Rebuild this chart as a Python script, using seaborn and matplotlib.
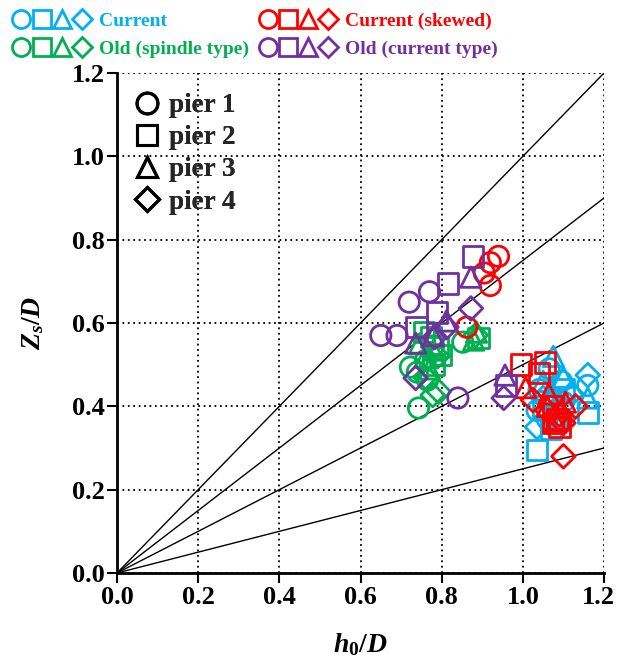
import numpy as np
import pandas as pd
import matplotlib
matplotlib.use("Agg")
import matplotlib.pyplot as plt
import seaborn as sns
from matplotlib.lines import Line2D
from matplotlib.markers import MarkerStyle
from matplotlib.transforms import Affine2D
from matplotlib.legend_handler import HandlerTuple

# ---------------- data ----------------
current_h = [1.04, 1.065, 1.095, 1.16, 1.035, 1.10, 1.06, 1.08,
             1.16, 1.035, 1.07, 1.05, 1.10, 1.08,
             1.075, 1.10, 1.16, 1.05, 1.09, 1.07,
             1.16, 1.035, 1.12, 1.08, 1.05, 1.10]
current_z = [0.44, 0.49, 0.46, 0.45, 0.39, 0.41, 0.37, 0.42,
             0.385, 0.295, 0.345, 0.40, 0.44, 0.38,
             0.52, 0.47, 0.42, 0.46, 0.40, 0.43,
             0.475, 0.35, 0.43, 0.39, 0.42, 0.37]
current_pier = ["pier 1"] * 8 + ["pier 2"] * 6 + ["pier 3"] * 6 + ["pier 4"] * 6

skewed_h = [0.94, 0.92, 0.905, 0.92, 0.862,
            0.995, 1.055, 1.04, 1.075, 1.075, 1.09, 1.085,
            1.007, 1.064, 1.105, 1.08, 1.06,
            1.025, 1.13, 1.10, 1.10, 1.06, 1.09]
skewed_z = [0.76, 0.745, 0.72, 0.69, 0.59,
            0.50, 0.505, 0.48, 0.40, 0.36, 0.35, 0.37,
            0.445, 0.43, 0.41, 0.365, 0.40,
            0.415, 0.40, 0.36, 0.28, 0.39, 0.38]
skewed_pier = ["pier 1"] * 5 + ["pier 2"] * 7 + ["pier 3"] * 5 + ["pier 4"] * 6

spindle_h = [0.743, 0.852, 0.723, 0.74, 0.765, 0.76, 0.78,
             0.891, 0.797, 0.79, 0.773, 0.756, 0.78,
             0.76, 0.78, 0.879, 0.886, 0.77, 0.745,
             0.793, 0.778, 0.884, 0.76, 0.79]
spindle_z = [0.396, 0.554, 0.494, 0.482, 0.463, 0.51, 0.545,
             0.564, 0.523, 0.543, 0.566, 0.578, 0.50,
             0.518, 0.535, 0.559, 0.578, 0.49, 0.55,
             0.435, 0.427, 0.571, 0.47, 0.52]
spindle_pier = ["pier 1"] * 7 + ["pier 2"] * 6 + ["pier 3"] * 6 + ["pier 4"] * 5

oldcur_h = [0.65, 0.69, 0.72, 0.77, 0.84,
            0.877, 0.815, 0.788, 0.738, 0.958,
            0.872, 0.812, 0.736, 0.956, 0.78,
            0.872, 0.783, 0.736, 0.953, 0.812]
oldcur_z = [0.57, 0.57, 0.65, 0.675, 0.42,
            0.76, 0.695, 0.625, 0.59, 0.45,
            0.71, 0.605, 0.552, 0.475, 0.57,
            0.635, 0.566, 0.468, 0.42, 0.59]
oldcur_pier = ["pier 1"] * 5 + ["pier 2"] * 5 + ["pier 3"] * 5 + ["pier 4"] * 5

group_labels = ["Current", "Old (spindle type)", "Current (skewed)", "Old (current type)"]
group_colors = ["#00B0F0", "#00B050", "#FF0000", "#7030A0"]
pier_labels = ["pier 1", "pier 2", "pier 3", "pier 4"]
ref_slopes = [1.0, 0.75, 0.5, 0.25]
ticks = [0.0, 0.2, 0.4, 0.6, 0.8, 1.0, 1.2]

# ---------------- style ----------------
sns.set_theme(style="white")
plt.rcParams["font.family"] = ["Liberation Serif", "DejaVu Serif"]
plt.rcParams["font.weight"] = "bold"
plt.rcParams["mathtext.fontset"] = "custom"
plt.rcParams["mathtext.it"] = "Liberation Serif:italic:bold"
plt.rcParams["mathtext.rm"] = "Liberation Serif:bold"
plt.rcParams["mathtext.bf"] = "Liberation Serif:bold"

diamond = MarkerStyle("D", transform=Affine2D().scale(0.82))
marker_map = {"pier 1": "o", "pier 2": "s", "pier 3": "^", "pier 4": diamond}

fig = plt.figure(figsize=(6.18, 6.6), dpi=100)
ax = fig.add_axes([117 / 618, 87 / 660, 487 / 618, 500 / 660])

frames = [
    pd.DataFrame({"h": current_h, "z": current_z, "pier": current_pier}),
    pd.DataFrame({"h": spindle_h, "z": spindle_z, "pier": spindle_pier}),
    pd.DataFrame({"h": skewed_h, "z": skewed_z, "pier": skewed_pier}),
    pd.DataFrame({"h": oldcur_h, "z": oldcur_z, "pier": oldcur_pier}),
]

# reference lines
xr = np.array([0.0, 1.2])
for k in ref_slopes:
    ax.plot(xr, k * xr, color="black", lw=1.0, zorder=1)

for df, col in zip(frames, group_colors):
    sns.scatterplot(data=df, x="h", y="z", style="pier", markers=marker_map,
                    style_order=pier_labels, s=215, facecolors="none",
                    edgecolor=col, linewidth=2.0, legend=False, ax=ax, zorder=3)

ax.set_xlim(0, 1.2)
ax.set_ylim(0, 1.2)
ax.set_xticks(ticks)
ax.set_yticks(ticks)
xlabels = [f"{t:.1f}" for t in ticks]
ax.set_xticklabels(xlabels[:-1] + [""], fontsize=19, fontweight="bold")
ax.set_yticklabels([f"{t:.1f}" for t in ticks], fontsize=19, fontweight="bold")
# last x tick label drawn slightly left so it stays inside the figure
ax.annotate(xlabels[-1], xy=(ticks[-1], 0), xycoords=("data", "axes fraction"),
            xytext=(-4, -9), textcoords="offset points", ha="center", va="top",
            fontsize=19, fontweight="bold", color="black", annotation_clip=False)

ax.grid(True, color="black", linestyle=(0, (1, 2)), lw=1.3)
ax.set_axisbelow(True)
ax.tick_params(axis="both", direction="out", length=7, width=1.5, color="black",
               bottom=True, left=True, pad=2, labelcolor="black")
for side in ["top", "right"]:
    ax.spines[side].set_visible(False)
for side in ["left", "bottom"]:
    ax.spines[side].set_color("black")
    ax.spines[side].set_linewidth(2.0)
ax.set_facecolor("white")

ax.set_xlabel(r"$h_0/D$", fontsize=20, labelpad=16, color="black")
ax.set_ylabel(r"$Z_s/D$", fontsize=20, labelpad=18, color="black")

# pier legend (inside)
pier_handles = [Line2D([], [], linestyle="none", marker=marker_map[p], markersize=15,
                       markerfacecolor="none", markeredgecolor="black",
                       markeredgewidth=2.2) for p in pier_labels]
leg = ax.legend(pier_handles, pier_labels, loc="upper left", frameon=False,
                prop={"size": 19.5, "weight": "bold"}, handletextpad=0.25,
                labelspacing=0.26, borderaxespad=0.0, handlelength=1.1,
                borderpad=0.2, bbox_to_anchor=(0.02, 0.97))
ax.add_artist(leg)

# group legend (top)
group_handles = []
for col in group_colors:
    group_handles.append(tuple(
        Line2D([], [], linestyle="none", marker=marker_map[p], markersize=13,
               markerfacecolor="none", markeredgecolor=col, markeredgewidth=2.0)
        for p in pier_labels))
fig.legend(group_handles, group_labels, loc="upper left", ncol=2,
           bbox_to_anchor=(0.0, 1.0), frameon=False,
           handler_map={tuple: HandlerTuple(ndivide=None, pad=0.12)},
           prop={"size": 14, "weight": "bold"}, labelcolor=group_colors,
           handlelength=4.0, handletextpad=0.45, columnspacing=0.5,
           labelspacing=0.5, borderaxespad=0.25)

fig.savefig("out.png", dpi=100, facecolor="white")
